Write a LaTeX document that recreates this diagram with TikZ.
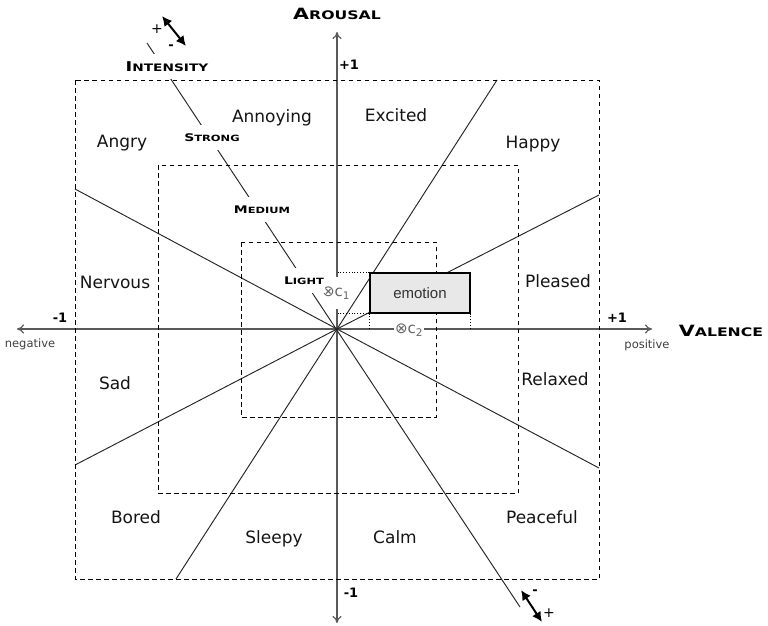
\documentclass[tikz,border=0pt]{standalone}
\usepackage{fontspec}
\setmainfont{DejaVu Sans}
\newfontfamily\capfont{DejaVu Sans}[FakeStretch=1.33]
\newfontfamily\helv{Liberation Sans}
\usetikzlibrary{arrows.meta}
\newcommand{\fsc}[4]{{\capfont\bfseries\fontsize{#3}{#3}\selectfont #1\fontsize{#4}{#4}\selectfont #2}}
\begin{document}
\begin{tikzpicture}[x=1pt,y=-1pt,
  axis/.style={draw=black!65, line width=1.2pt, {To[length=7pt,width=9pt]}-{To[length=7pt,width=9pt]}},
  sector/.style={draw=black!85, line width=0.95pt},
  zone/.style={draw=black, line width=0.9pt, dash pattern=on 4.5pt off 3.5pt},
  guide/.style={draw=black, line width=0.8pt, dash pattern=on 1pt off 1.8pt},
  mood/.style={anchor=base, font=\fontsize{17}{17}\selectfont, text=black!92, inner sep=0pt},
  lvl/.style={fill=white, inner sep=1pt, minimum height=25pt},
  num/.style={font=\bfseries\fontsize{13}{13}\selectfont, inner sep=0pt},
  pole/.style={font=\fontsize{11.5}{11.5}\selectfont, text=black!75, inner sep=0pt},
  bigarrow/.style={{Latex[length=10pt,width=10pt]}-{Latex[length=10pt,width=10pt]}, line width=2pt},
  pm/.style={font=\bfseries\fontsize{13}{13}\selectfont, inner sep=0pt},
  cl/.style={fill=white, inner xsep=0pt, inner ysep=1pt, text=black!60, font=\fontsize{15}{15}\selectfont}
]
\useasboundingbox (0,0) rectangle (768,625);
% key points
\coordinate (O) at (337,329);
\coordinate (L) at (17,329);
\coordinate (R) at (652,329);
\coordinate (T) at (337,32);
\coordinate (B) at (337,623);
\coordinate (a30) at (599,195);
\coordinate (a60) at (497,80);
\coordinate (a150) at (75,189);
\coordinate (a210) at (75,465);
\coordinate (a240) at (176,579);
\coordinate (a330) at (599,468);
\coordinate (i1) at (147,43);
\coordinate (i2) at (520,607);
% axes
\draw[axis] (L) -- (R);
\draw[axis] (B) -- (T);
% centroid labels (interrupt the axes)
\node[cl, minimum height=32pt] (c1) at (336,293) {⊗c\textsubscript{1}};
\node[cl, inner xsep=1pt] (c2) at (409,330) {⊗c\textsubscript{2}};
% sector lines
\foreach \p in {a30,a60,a150,a210,a240,a330} \draw[sector] (O) -- (\p);
\draw[sector] (i1) -- (i2);
% zones
\draw[zone] (75,80) rectangle (599,579);
\draw[zone] (158,165) rectangle (518,493);
\draw[zone] (241,242) rectangle (436,417);
% intensity levels
\node[lvl] (int) at (167,66.5) {\fsc{I}{NTENSITY}{13.5}{10.3}};
\node[lvl] (str) at (212,137.5) {\fsc{S}{TRONG}{10.5}{8.6}};
\node[lvl] (med) at (262,209.5) {\fsc{M}{EDIUM}{10.5}{8.6}};
\node[lvl] (lig) at (304,280.5) {\fsc{L}{IGHT}{10.5}{8.6}};
% emotion box
\node[draw=black, line width=1.1pt, fill=black!9, minimum width=100pt, minimum height=40pt, inner sep=0pt,
  font=\helv\fontsize{15}{15}\selectfont, text=black!80] (emo) at (420,293) {emotion};
\draw[guide] (emo.north west) -- (emo.north west -| O);
\draw[guide] (emo.south west) -- (emo.south west -| O);
\draw[guide] (emo.south west) -- (emo.south west |- O);
\draw[guide] (emo.south east) -- (emo.south east |- O);
% moods
\node[mood] (angry) at (122,147) {Angry};
\node[mood] (annoy) at (272,122) {Annoying};
\node[mood] (excit) at (396,121) {Excited};
\node[mood] (happy) at (533,148) {Happy};
\node[mood] (nerv) at (115,288) {Nervous};
\node[mood] (pleas) at (558,287) {Pleased};
\node[mood] (sad) at (115,389) {Sad};
\node[mood] (relax) at (555,385) {Relaxed};
\node[mood] (bored) at (136,523) {Bored};
\node[mood] (sleepy) at (274,543) {Sleepy};
\node[mood] (calm) at (395,543) {Calm};
\node[mood] (peace) at (542,523) {Peaceful};
% axis labels
\node (arousal) at (337,14) {\fsc{A}{ROUSAL}{15.5}{11.8}};
\node (valence) at (721,331) {\fsc{V}{ALENCE}{15.5}{11.8}};
\node[num] (ptop) at (349,65) {+1};
\node[num] (mbot) at (351,593) {-1};
\node[num] (mleft) at (60,318) {-1};
\node[num] (pright) at (617,318) {+1};
\node[pole] (neg) at (30,344) {negative};
\node[pole] (pos) at (647,345) {positive};
% intensity direction arrows
\coordinate (ta1) at (162,16);
\coordinate (ta2) at (186,46);
\draw[bigarrow] (ta1) -- (ta2);
\node[pm, font=\fontsize{14}{14}\selectfont] (tplus) at (157,29) {+};
\node[pm] (tminus) at (171,47) {-};
\coordinate (ba1) at (521,590);
\coordinate (ba2) at (542,622);
\draw[bigarrow] (ba1) -- (ba2);
\node[pm] (bminus) at (535,592) {-};
\node[pm, font=\fontsize{14}{14}\selectfont] (bplus) at (549,613) {+};
\end{tikzpicture}
\end{document}
